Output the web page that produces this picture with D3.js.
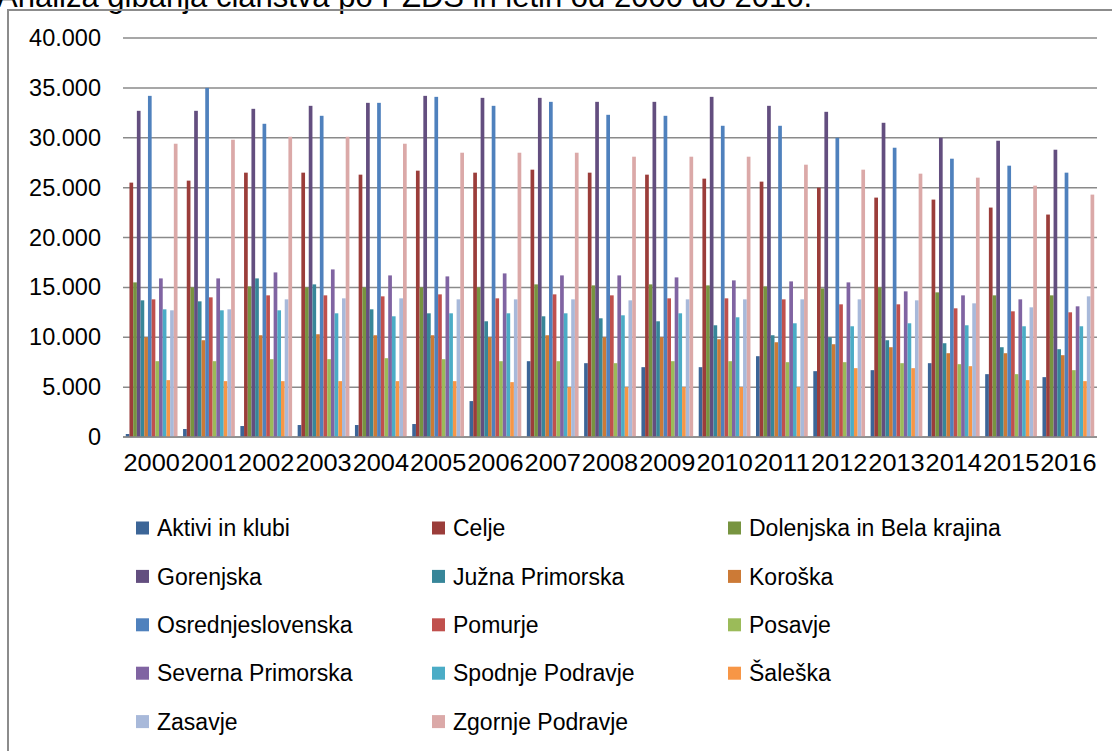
<!DOCTYPE html>
<html>
<head>
<meta charset="utf-8">
<script src="https://cdn.jsdelivr.net/npm/d3@7"></script>
<style>
  body { margin: 0; background: #fff; overflow: hidden; }
  svg { display: block; font-family: "Liberation Sans", Arial, sans-serif; }
</style>
</head>
<body>
<div id="chart"></div>
<script>
var title = "Analiza gibanja članstva po PZDS in letih od 2000 do 2016.";
var years = ["2000","2001","2002","2003","2004","2005","2006","2007","2008","2009","2010","2011","2012","2013","2014","2015","2016"];
var yTicks = [0, 5000, 10000, 15000, 20000, 25000, 30000, 35000, 40000];

var names = ["Aktivi in klubi", "Celje", "Dolenjska in Bela krajina", "Gorenjska", "Južna Primorska", "Koroška",
  "Osrednjeslovenska", "Pomurje", "Posavje", "Severna Primorska", "Spodnje Podravje", "Šaleška",
  "Zasavje", "Zgornje Podravje"];
var colors = ["#3c6597", "#9b3d3a", "#779440", "#634e7f", "#378699", "#cc7a36",
  "#4f81bd", "#c0504d", "#9bbb59", "#8064a2", "#4bacc6", "#f79646",
  "#a8b9da", "#dba9a8"];

var aktivi     = [300, 800, 1100, 1200, 1200, 1300, 3600, 7600, 7400, 7000, 7000, 8100, 6600, 6700, 7400, 6300, 6000];
var celje      = [25500, 25700, 26500, 26500, 26300, 26700, 26500, 26800, 26500, 26300, 25900, 25600, 25000, 24000, 23800, 23000, 22300];
var dolenjska  = [15500, 15000, 15100, 15000, 15000, 15000, 15000, 15300, 15200, 15300, 15200, 15100, 14900, 15000, 14500, 14200, 14200];
var gorenjska  = [32700, 32700, 32900, 33200, 33500, 34200, 34000, 34000, 33600, 33600, 34100, 33200, 32600, 31500, 30000, 29700, 28800];
var juzna      = [13700, 13600, 15900, 15300, 12800, 12400, 11600, 12100, 11900, 11600, 11200, 10200, 10000, 9700, 9400, 9000, 8800];
var koroska    = [10000, 9700, 10200, 10300, 10200, 10200, 10000, 10200, 10000, 10000, 9800, 9500, 9300, 9000, 8400, 8400, 8200];
var osrednje   = [34200, 35000, 31400, 32200, 33500, 34100, 33200, 33600, 32300, 32200, 31200, 31200, 30000, 29000, 27900, 27200, 26500];
var pomurje    = [13800, 14000, 14200, 14200, 14100, 14300, 13900, 14300, 14200, 13900, 13900, 13800, 13300, 13300, 12900, 12600, 12500];
var posavje    = [7600, 7600, 7800, 7800, 7900, 7800, 7600, 7600, 7400, 7600, 7600, 7500, 7500, 7400, 7300, 6300, 6700];
var severna    = [15900, 15900, 16500, 16800, 16200, 16100, 16400, 16200, 16200, 16000, 15700, 15600, 15500, 14600, 14200, 13800, 13100];
var spodnje    = [12800, 12700, 12700, 12400, 12100, 12400, 12400, 12400, 12200, 12400, 12000, 11400, 11100, 11400, 11200, 11100, 11100];
var saleska    = [5700, 5600, 5600, 5600, 5600, 5600, 5500, 5000, 5000, 5000, 5000, 5000, 6900, 6900, 7100, 5700, 5600];
var zasavje    = [12700, 12800, 13800, 13900, 13900, 13800, 13800, 13800, 13700, 13800, 13800, 13800, 13800, 13700, 13400, 13000, 14100];
var zgornje    = [29400, 29800, 30100, 30100, 29400, 28500, 28500, 28500, 28100, 28100, 28100, 27300, 26800, 26400, 26000, 25200, 24300];

var seriesValues = [aktivi, celje, dolenjska, gorenjska, juzna, koroska, osrednje, pomurje, posavje, severna, spodnje, saleska, zasavje, zgornje];

var width = 1112, height = 751;
var plot = {left: 123, right: 1097, top: 38, bottom: 437};

var svg = d3.select("#chart").append("svg")
  .attr("width", width)
  .attr("height", height);

svg.append("rect").attr("width", width).attr("height", height).attr("fill", "#fff");

//Title (the screenshot only shows its lower part)
svg.append("text")
  .attr("x", -3)
  .attr("y", 7)
  .style("font-size", "31px")
  .style("fill", "#000")
  .text(title);

//Chart frame
svg.append("path")
  .attr("d", "M8," + (height + 2) + "V10H" + (width + 2))
  .attr("fill", "none")
  .attr("stroke", "#8c8c8c")
  .attr("stroke-width", 2);

//Scales
var x0 = d3.scaleBand().domain(years).range([plot.left, plot.right]);
var gap = x0.bandwidth() * 1.5 / (names.length + 1.5);
var x1 = d3.scaleBand().domain(d3.range(names.length)).range([gap / 2, x0.bandwidth() - gap / 2]);
var y = d3.scaleLinear().domain([0, 40000]).range([plot.bottom, plot.top]);

//Gridlines
svg.append("g")
  .selectAll("line").data(yTicks)
  .enter().append("line")
    .attr("x1", plot.left)
    .attr("x2", plot.right)
    .attr("y1", function(d){ return y(d); })
    .attr("y2", function(d){ return y(d); })
    .attr("stroke", "#8a8a8a")
    .attr("stroke-width", 1.5);

//Y axis labels
var fmt = function(d){ return d === 0 ? "0" : d3.format(",")(d).replace(/,/g, "."); };
svg.append("g")
  .attr("transform", "translate(101,0)")
  .call(d3.axisLeft(y).tickValues(yTicks).tickSize(0).tickPadding(0).tickFormat(fmt))
  .call(function(g){ g.select(".domain").remove(); })
  .selectAll("text")
    .style("font-family", "Liberation Sans, Arial, sans-serif")
    .style("font-size", "23.5px")
    .style("fill", "#000");

//Bars
var groups = svg.append("g")
  .selectAll("g").data(years)
  .enter().append("g")
    .attr("transform", function(d){ return "translate(" + x0(d) + ",0)"; });

groups.selectAll("rect")
  .data(function(d, i){
    return seriesValues.map(function(vals, s){ return {s: s, v: vals[i]}; });
  })
  .enter().append("rect")
    .attr("x", function(d){ return x1(d.s); })
    .attr("width", x1.bandwidth())
    .attr("y", function(d){ return y(d.v); })
    .attr("height", function(d){ return y(0) - y(d.v); })
    .attr("fill", function(d){ return colors[d.s]; });

//Baseline
svg.append("line")
  .attr("x1", plot.left).attr("x2", plot.right)
  .attr("y1", y(0)).attr("y2", y(0))
  .attr("stroke", "#8a8a8a").attr("stroke-width", 1.5);

//X axis labels
svg.append("g")
  .attr("transform", "translate(0," + (y(0) + 18) + ")")
  .call(d3.axisBottom(x0).tickSize(0).tickPadding(0))
  .call(function(g){ g.select(".domain").remove(); })
  .selectAll("text")
    .attr("dy", "0.71em")
    .attr("textLength", x0.bandwidth() - 1)
    .attr("lengthAdjust", "spacingAndGlyphs")
    .style("font-family", "Liberation Sans, Arial, sans-serif")
    .style("font-size", "23px")
    .style("fill", "#000");

//Legend
var legend = svg.append("g")
  .selectAll("g").data(names)
  .enter().append("g")
    .attr("transform", function(d, i){
      return "translate(" + (136 + (i % 3) * 296) + "," + (528 + Math.floor(i / 3) * 48.4) + ")";
    });

legend.append("rect")
  .attr("x", 0).attr("y", -6.5)
  .attr("width", 13).attr("height", 13)
  .attr("fill", function(d, i){ return colors[i]; });

legend.append("text")
  .attr("x", 21)
  .attr("dy", "0.36em")
  .style("font-size", "23px")
  .style("fill", "#000")
  .text(function(d){ return d; });
</script>
</body>
</html>
